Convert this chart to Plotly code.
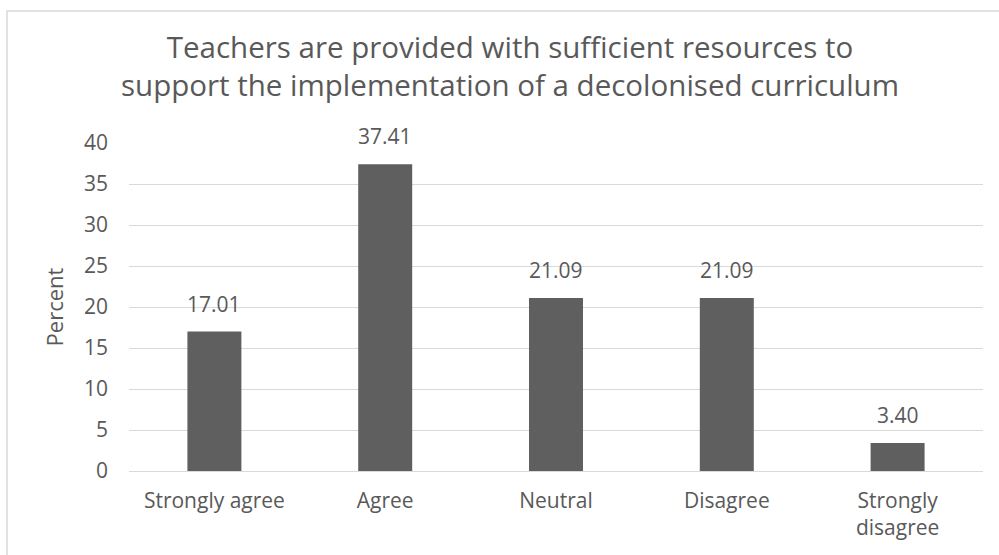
import plotly.graph_objects as go

categories = ["Strongly agree", "Agree", "Neutral", "Disagree", "Strongly<br>disagree"]
percent = [17.01, 37.41, 21.09, 21.09, 3.40]
y_ticks = [0, 5, 10, 15, 20, 25, 30, 35, 40]

font_family = "Open Sans, Liberation Sans, sans-serif"
text_color = "#595959"
grid_color = "#d9d9d9"
bar_color = "#5f5f5f"

fig = go.Figure(
    go.Bar(
        x=categories,
        y=percent,
        marker=dict(color=bar_color, line=dict(width=0)),
        width=0.316,
        hoverinfo="x+y",
    )
)

# value labels sitting above each bar
value_labels = [
    dict(
        x=c, y=v, xref="x", yref="y",
        text=f"{v:.2f}",
        showarrow=False,
        yanchor="bottom",
        yshift=12,
        font=dict(size=21, color=text_color, family=font_family),
    )
    for c, v in zip(categories, percent)
]

title_note = dict(
    text="Teachers are provided with sufficient resources to<br>support the implementation of a decolonised curriculum",
    xref="paper", yref="paper",
    x=(510 - 129) / 854, y=(471 - 66) / 328,
    xanchor="center", yanchor="middle",
    showarrow=False,
    font=dict(size=29.5, color=text_color, family=font_family),
)

fig.update_layout(
    width=999,
    height=555,
    margin=dict(l=129, r=16, t=143, b=84),
    paper_bgcolor="white",
    plot_bgcolor="white",
    showlegend=False,
    font=dict(family=font_family, color=text_color),
    xaxis=dict(
        showline=False,
        ticks="",
        tickfont=dict(size=21, color=text_color),
        showgrid=False,
        ticklabelstandoff=15,
    ),
    yaxis=dict(
        range=[0, 40],
        tickvals=y_ticks,
        tickfont=dict(size=21, color=text_color),
        showgrid=True,
        gridcolor=grid_color,
        gridwidth=1,
        zeroline=True,
        zerolinecolor=grid_color,
        zerolinewidth=1,
        ticks="",
        ticklabelstandoff=20,
        title=dict(text="Percent", font=dict(size=22, color=text_color), standoff=14),
    ),
    annotations=[title_note] + value_labels,
    shapes=[
        dict(
            type="rect", xref="paper", yref="paper",
            x0=(7 - 129) / 854, x1=1.1, y0=-0.4, y1=(471 - 11) / 328,
            line=dict(color=grid_color, width=1.5),
            fillcolor="rgba(0,0,0,0)",
            layer="below",
        )
    ],
)

fig.write_html("out.html")
